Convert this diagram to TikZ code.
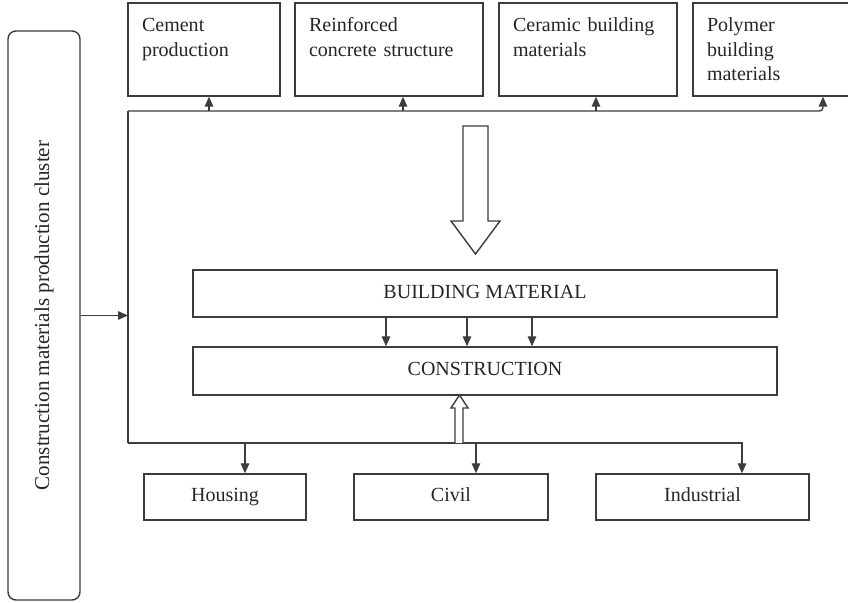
\documentclass[tikz,border=0pt]{standalone}
\usepackage{fontspec}
\setmainfont{Liberation Serif}
\usetikzlibrary{arrows.meta,positioning,calc}
\definecolor{Paper}{HTML}{FFFFFF}
\definecolor{Frame}{HTML}{3C3C3C}
\definecolor{Ink}{HTML}{262626}
\tikzset{topbox/.style={rectangle,draw=Frame,line width=0.8pt,align=left,inner xsep=0.28cm,inner ysep=0.26cm,text height=0.32cm,text depth=1.02cm,text=Ink},bandbox/.style={rectangle,draw=Frame,line width=0.8pt,minimum width=11.68cm,align=center,text height=0.28cm,text depth=0.08cm,text=Ink},sectorbox/.style={rectangle,draw=Frame,line width=0.8pt,minimum height=0.92cm,align=center,text height=0.28cm,text depth=0.08cm,text=Ink},clusterbox/.style={rectangle,rounded corners=0.16cm,draw=Frame,line width=0.8pt,minimum width=1.44cm,minimum height=11.38cm,text=Ink},wire/.style={draw=Frame,line width=0.8pt},link/.style={draw=Frame,line width=0.8pt,-{Triangle[length=2mm,width=1.7mm]}},hollow/.style={draw=Frame,line width=0.8pt,fill=Paper,line join=miter}}

\begin{document}
\begin{tikzpicture}[font=\fontsize{11.4}{13.7}\selectfont]
\fill[Paper] (0,0) rectangle (16.96,12.06);
\useasboundingbox (0,0) rectangle (16.96,12.06);
\node[clusterbox] (cluster) at (0.88,5.75) {\rotatebox{90}{\fontsize{12}{14}\selectfont Construction materials production cluster}};
\node[topbox,text width=2.48cm] (cement) at (4.08,11.07) {Cement\\production};
\node[topbox,text width=3.20cm] (reinforced) at (7.78,11.07) {Reinforced\\concrete structure};
\node[topbox,text width=3.00cm] (ceramic) at (11.76,11.07) {Ceramic building\\materials};
\node[topbox,text width=2.62cm] (polymer) at (15.45,11.07) {Polymer\\building\\materials};
\node[bandbox,minimum height=0.94cm] (building) at (9.70,6.19) {BUILDING MATERIAL};
\node[bandbox,minimum height=0.96cm] (construction) at (9.70,4.64) {CONSTRUCTION};
\node[sectorbox,minimum width=3.24cm] (housing) at (4.50,2.12) {Housing};
\node[sectorbox,minimum width=3.88cm] (civil) at (9.02,2.12) {Civil};
\node[sectorbox,minimum width=4.26cm] (industrial) at (14.05,2.12) {Industrial};
\coordinate (tl) at (2.56,9.84);
\coordinate (bl) at (2.56,3.20);
\coordinate (busend) at (16.46,9.84);
\coordinate (baseend) at (14.84,3.20);
\coordinate (b1) at (4.18,9.84);
\coordinate (b2) at (8.06,9.84);
\coordinate (b3) at (11.92,9.84);
\coordinate (m1) at (7.72,5.72);
\coordinate (m2) at (9.34,5.72);
\coordinate (m3) at (10.64,5.72);
\coordinate (s1) at (4.90,3.20);
\coordinate (s2) at (9.52,3.20);
\draw[wire] (tl) -- (bl);
\draw[link,rounded corners=2pt] (tl) -- (busend) -- (busend |- polymer.south);
\draw[link] (b1) -- (b1 |- cement.south);
\draw[link] (b2) -- (b2 |- reinforced.south);
\draw[link] (b3) -- (b3 |- ceramic.south);
\draw[link] (bl) -- (baseend) -- (baseend |- industrial.north);
\draw[link] (s1) -- (s1 |- housing.north);
\draw[link] (s2) -- (s2 |- civil.north);
\draw[link] (cluster.east) -- (cluster.east -| tl);
\draw[link] (m1) -- (m1 |- construction.north);
\draw[link] (m2) -- (m2 |- construction.north);
\draw[link] (m3) -- (m3 |- construction.north);
\draw[hollow] (9.26,9.54) -- (9.76,9.54) -- (9.76,7.64) -- (10.00,7.64) -- (9.51,6.98) -- (9.02,7.64) -- (9.26,7.64) -- cycle;
\draw[hollow] (9.10,3.20) -- (9.10,3.90) -- (9.02,3.90) -- (9.19,4.16) -- (9.36,3.90) -- (9.26,3.90) -- (9.26,3.20);
\end{tikzpicture}
\end{document}
